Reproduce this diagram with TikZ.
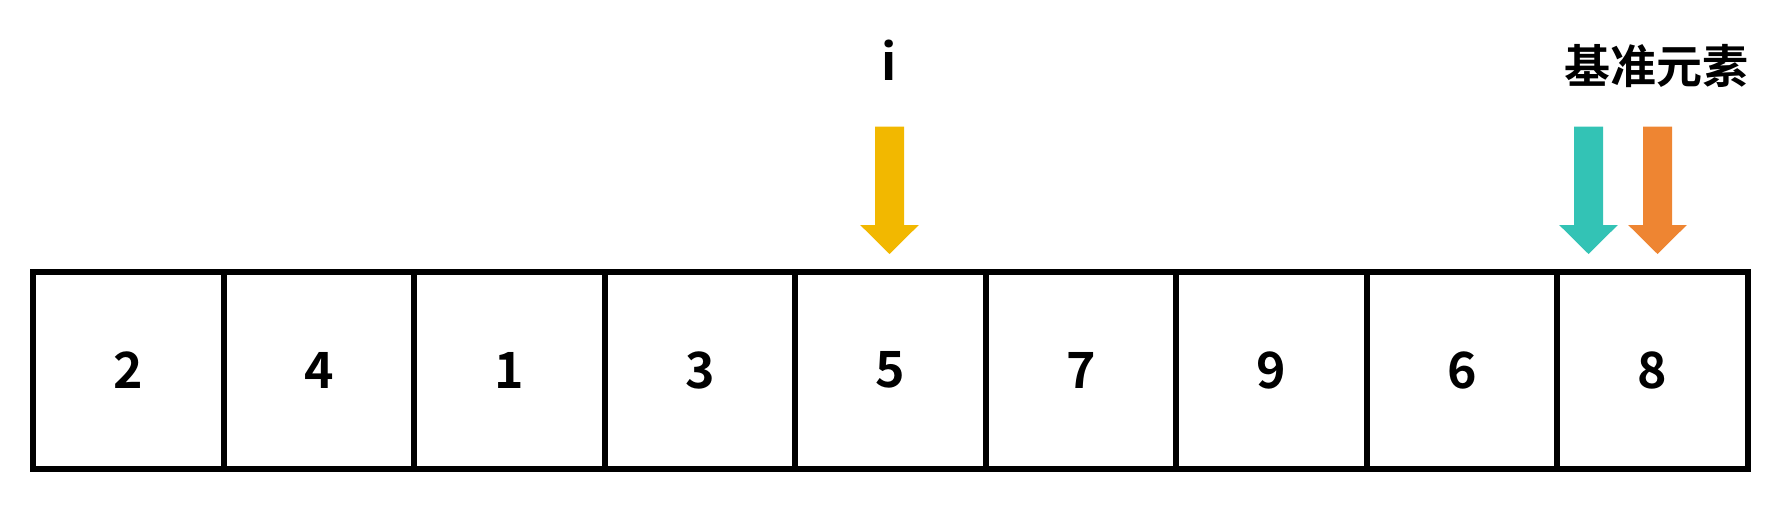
\documentclass[tikz,border=0pt]{standalone}
\usepackage{fontspec}
\setmainfont{Noto Sans CJK SC}[BoldFont={Noto Sans CJK SC Bold}]
\definecolor{ayellow}{HTML}{F2B800}
\definecolor{ateal}{HTML}{33C3B5}
\definecolor{aorange}{HTML}{EE8532}
\tikzset{
  cell/.style={draw=black, line width=6pt, minimum width=190.5pt, minimum height=197.5pt,
    inner sep=0pt, outer sep=0pt, font=\fontsize{50pt}{50pt}\selectfont\bfseries, anchor=north west},
  lbl/.style={inner sep=0pt, font=\fontsize{50pt}{50pt}\selectfont\bfseries},
}
\newcommand{\downarrowshape}[2]{% #1 x center, #2 colour
  \fill[#2] (#1-14.5,126.7) -- (#1+14.5,126.7) -- (#1+14.5,225) -- (#1+29.3,225)
    -- (#1,254) -- (#1-29.3,225) -- (#1-14.5,225) -- cycle;}
\begin{document}
\begin{tikzpicture}[x=1pt,y=-1pt]
\useasboundingbox (0,0) rectangle (1781,525);
\foreach \v [count=\k] in {2,4,1,3,5,7,9,6,8}{
  \node[cell] (c\k) at ({33+(\k-1)*190.5},271.5) {\v};
}
\node[lbl] (i) at (889.5,60.5) {i};
\node[lbl, font=\fontsize{46pt}{46pt}\selectfont\bfseries] (pivot) at (1656.5,66) {基准元素};
\downarrowshape{889.5}{ayellow}
\downarrowshape{1588.5}{ateal}
\downarrowshape{1657.5}{aorange}
\end{tikzpicture}
\end{document}
